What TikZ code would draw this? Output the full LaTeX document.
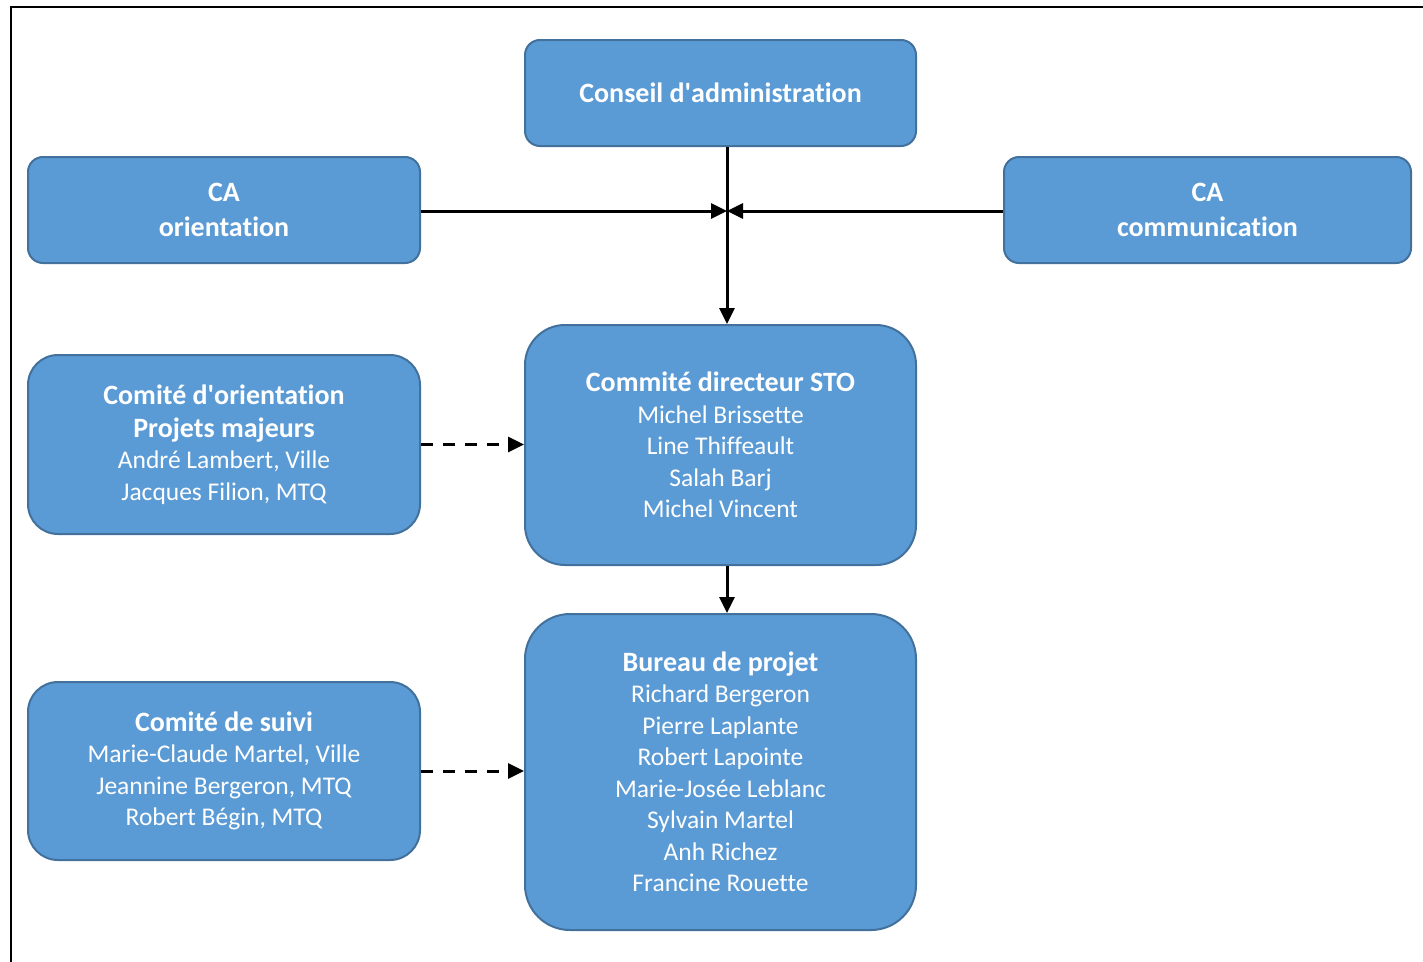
\documentclass[tikz,border=0pt]{standalone}
\usepackage{fontspec}
\setmainfont[Ligatures={NoCommon}]{Carlito}
\usetikzlibrary{arrows.meta}
\definecolor{boxfill}{HTML}{5B9BD5}
\definecolor{boxline}{HTML}{41719C}
\tikzset{
  box/.style={draw=boxline, fill=boxfill, line width=2pt, text=white, align=center,
    inner sep=0pt, font=\fontsize{25.5}{31.5}\selectfont},
  conn/.style={line width=3pt, -{Triangle[length=16pt,width=15pt]}},
  dconn/.style={conn, dash pattern=on 12pt off 10pt}
}
\newcommand{\ttl}[1]{{\fontsize{28}{34}\selectfont\bfseries #1}}
\newcommand{\apos}{\XeTeXglyph\XeTeXcharglyph"27\relax}
\begin{document}
\begin{tikzpicture}[x=1pt,y=-1pt]
\useasboundingbox (0,0) rectangle (1423,961);
\fill[white] (0,0) rectangle (1423,961);
\draw[line width=2.5pt] (11,970) -- (11,7) -- (1430,7);
\node[box, minimum width=391pt, minimum height=106pt, rounded corners=15pt] (conseil) at (720.5,93) {\ttl{Conseil d\apos administration}};
\node[box, minimum width=392pt, minimum height=106pt, rounded corners=15pt] (caor) at (224,210) {\ttl{CA}\\[3pt]\ttl{orientation}};
\node[box, minimum width=407pt, minimum height=106pt, rounded corners=15pt] (cacom) at (1207.5,210) {\ttl{CA}\\[3pt]\ttl{communication}};
\node[box, minimum width=391pt, minimum height=240pt, rounded corners=40pt] (dir) at (720.5,445) {\ttl{Commité directeur STO}\\Michel Brissette\\Line Thiffeault\\Salah Barj\\Michel Vincent};
\node[box, minimum width=392pt, minimum height=179pt, rounded corners=30pt] (orient) at (224,444.5) {\ttl{Comité d\apos orientation}\\[1pt]\ttl{Projets majeurs}\\André Lambert, Ville\\Jacques Filion, MTQ};
\node[box, minimum width=391pt, minimum height=316pt, rounded corners=45pt] (bureau) at (720.5,772) {\ttl{Bureau de projet}\\Richard Bergeron\\Pierre Laplante\\Robert Lapointe\\Marie-Josée Leblanc\\Sylvain Martel\\Anh Richez\\Francine Rouette};
\node[box, minimum width=392pt, minimum height=178pt, rounded corners=30pt] (suivi) at (224,771) {\ttl{Comité de suivi}\\Marie-Claude Martel, Ville\\Jeannine Bergeron, MTQ\\Robert Bégin, MTQ};
\coordinate (j) at (727,211);
\draw[conn] (conseil.south -| j) -- (dir.north -| j);
\draw[conn] (caor.east |- j) -- (j);
\draw[conn] (cacom.west |- j) -- (j);
\draw[conn] (dir.south -| j) -- (bureau.north -| j);
\draw[dconn] (orient.east) -- (orient.east -| dir.west);
\draw[dconn] (suivi.east) -- (suivi.east -| bureau.west);
\end{tikzpicture}
\end{document}
